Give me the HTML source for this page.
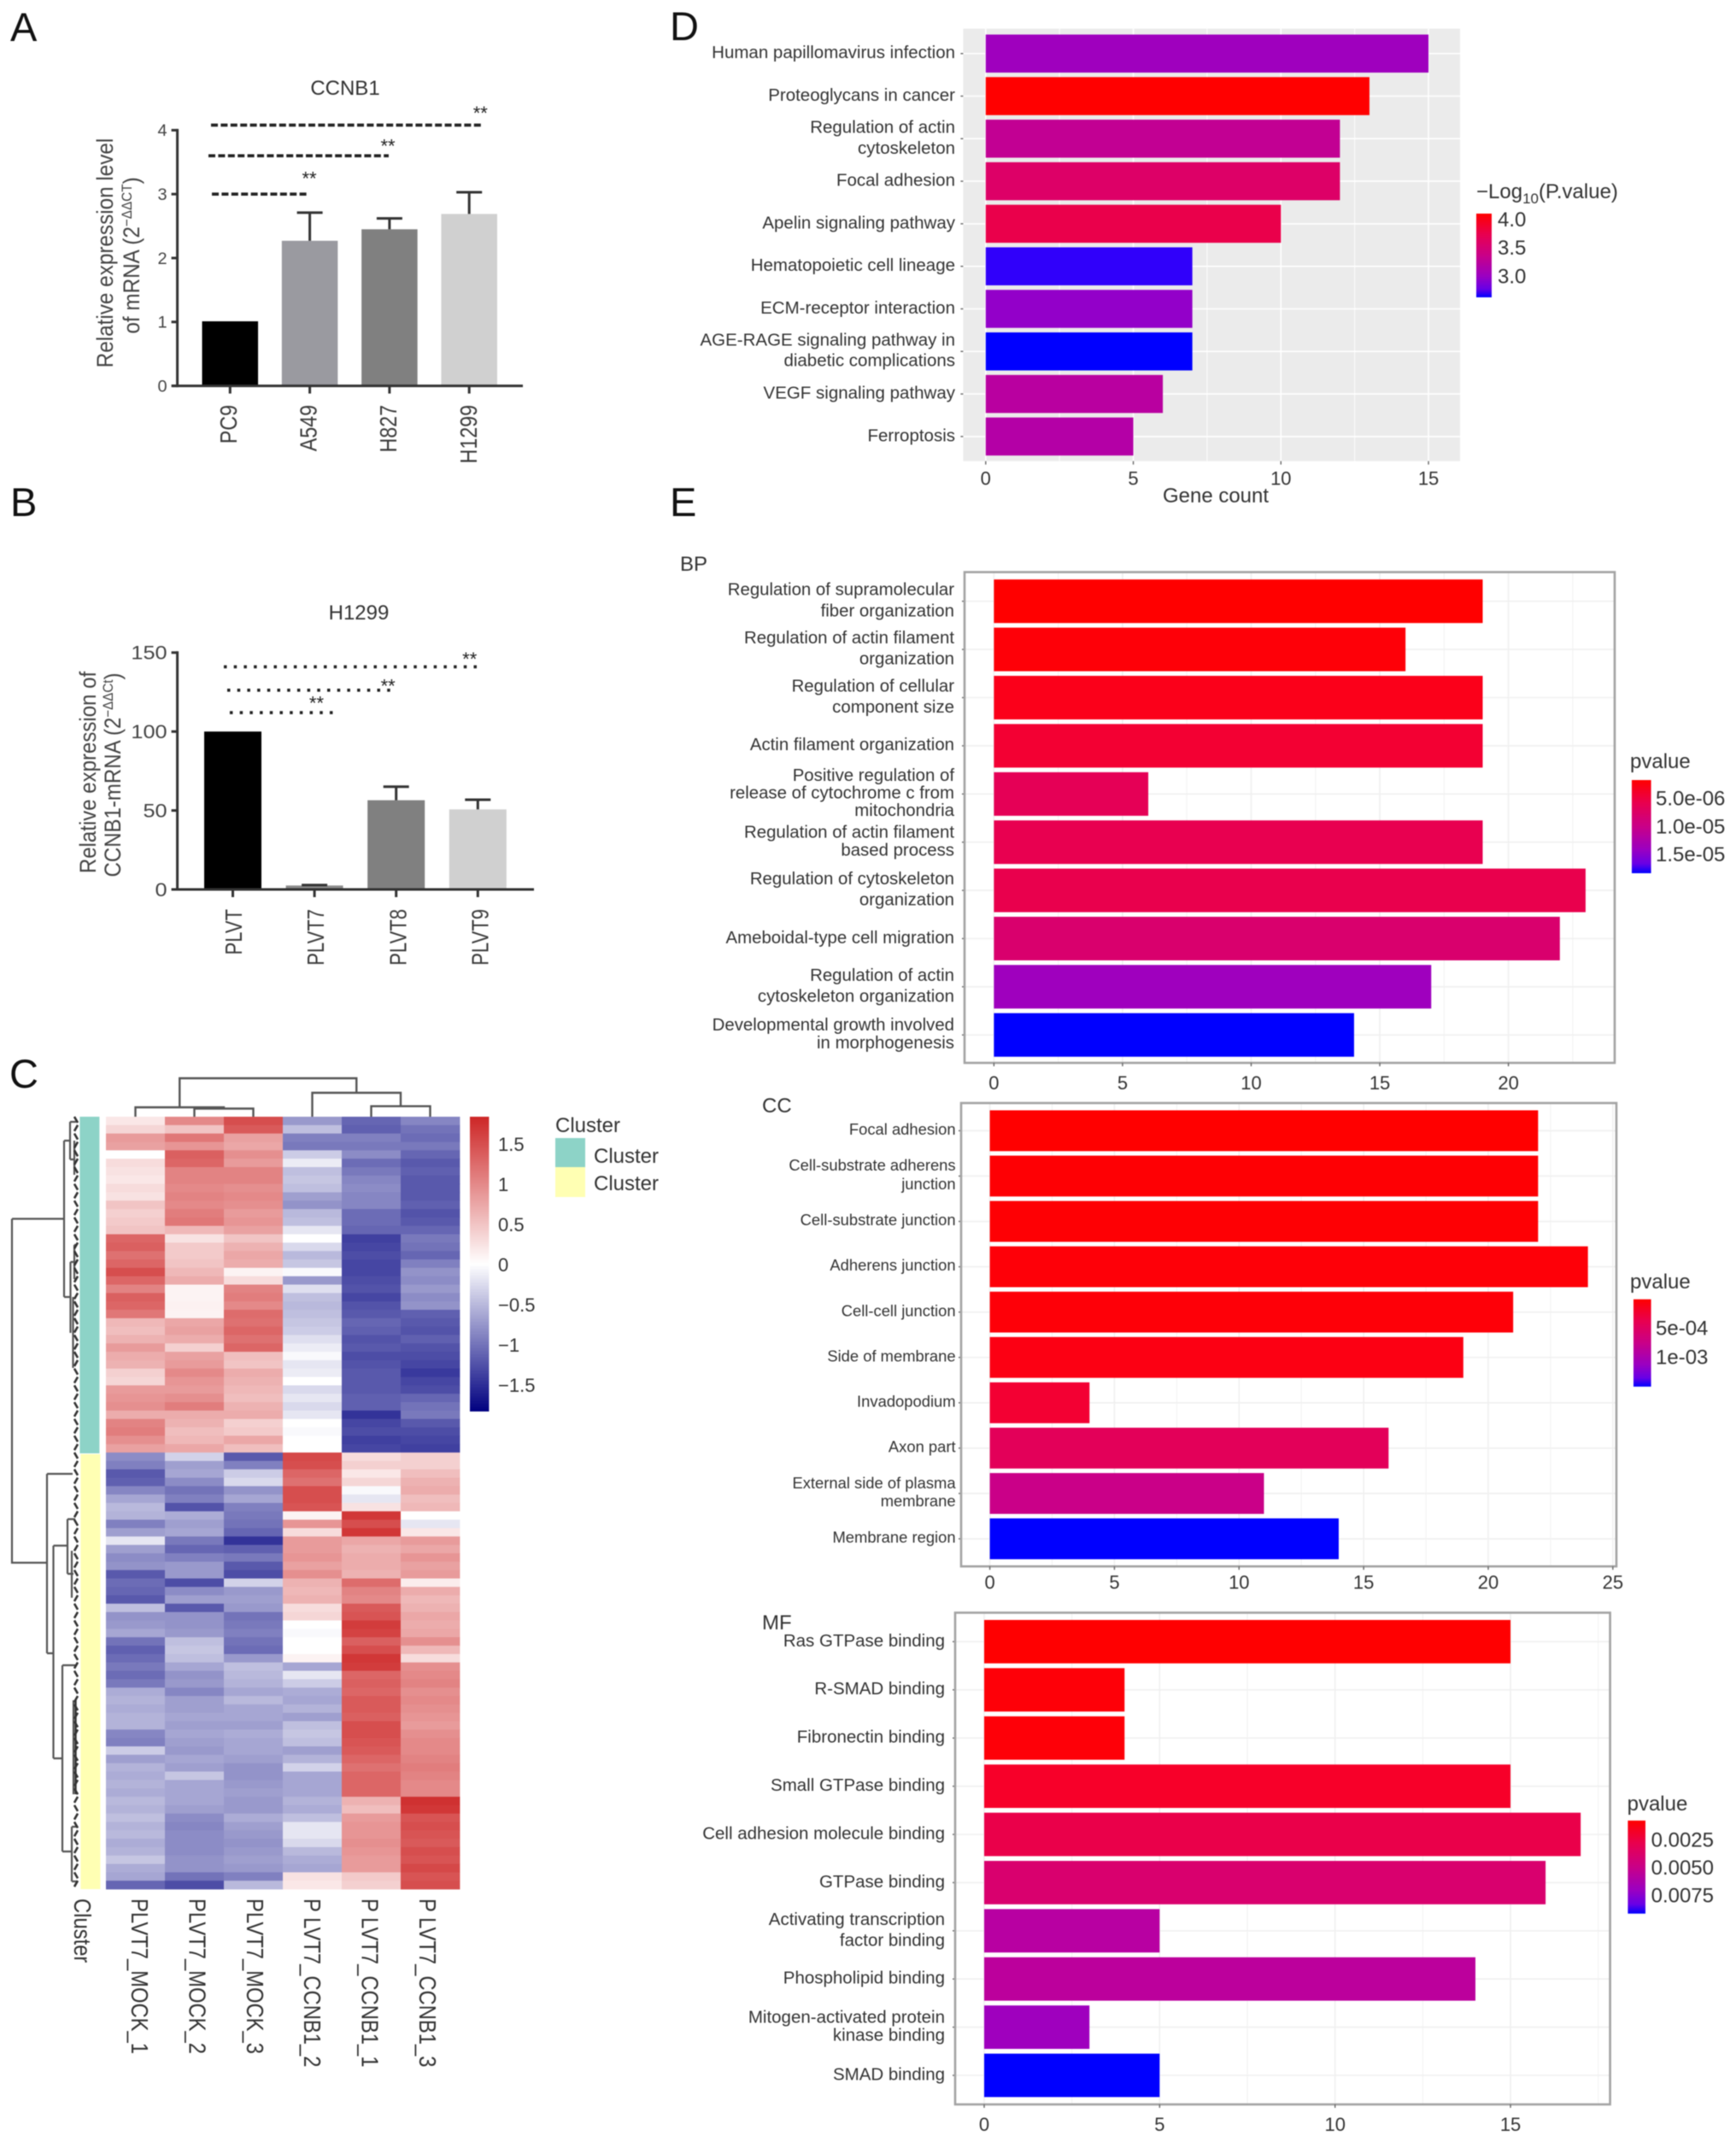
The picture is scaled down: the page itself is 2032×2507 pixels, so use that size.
<!DOCTYPE html>
<html lang="en">
<head>
<meta charset="utf-8">
<title>CCNB1 expression, heatmap and enrichment figure</title>
<style>
html,body{margin:0;padding:0;background:#fff;}
svg{display:block;filter:blur(0.55px);}
text{font-family:"Liberation Sans",Arial,sans-serif;}
</style>
</head>
<body>
<svg id="figure" xmlns="http://www.w3.org/2000/svg" width="2032" height="2507" viewBox="0 0 2032 2507">
<defs>
<linearGradient id="go-gradient" x1="0" y1="0" x2="0" y2="1"><stop offset="0" stop-color="#ff0000"/><stop offset="0.25" stop-color="#e80050"/><stop offset="0.5" stop-color="#c90088"/><stop offset="0.75" stop-color="#9a00c2"/><stop offset="0.9" stop-color="#6800e6"/><stop offset="1" stop-color="#0000ff"/></linearGradient>
<linearGradient id="heat-gradient" x1="0" y1="0" x2="0" y2="1"><stop offset="0" stop-color="#cd2626"/><stop offset="0.5" stop-color="#ffffff"/><stop offset="1" stop-color="#000080"/></linearGradient>
</defs>
<rect width="2032" height="2507" fill="#ffffff"/>

<text x="12" y="48" font-size="47" fill="#111">A</text>
<text x="12" y="604" font-size="47" fill="#111">B</text>
<text x="11" y="1273" font-size="47" fill="#111">C</text>
<text x="784" y="47" font-size="47" fill="#111">D</text>
<text x="784" y="604" font-size="47" fill="#111">E</text>

<g id="panel-a">
<text x="404" y="111" font-size="24" text-anchor="middle" fill="#333">CCNB1</text>
<text transform="translate(132,296) rotate(-90) scale(.9,1)" font-size="27" text-anchor="middle" fill="#444">Relative expression level</text>
<text transform="translate(163,299) rotate(-90) scale(.9,1)" font-size="27" text-anchor="middle" fill="#444">of mRNA (2<tspan font-size="17" dy="-9">−ΔΔCT</tspan><tspan dy="9">)</tspan></text>
</g>

<g id="panel-b">
<text x="420" y="725" font-size="24" text-anchor="middle" fill="#333">H1299</text>
<text transform="translate(112,904) rotate(-90) scale(.89,1)" font-size="27" text-anchor="middle" fill="#444">Relative expression of</text>
<text transform="translate(141,907) rotate(-90) scale(.89,1)" font-size="27" text-anchor="middle" fill="#444">CCNB1-mRNA (2<tspan font-size="17" dy="-9">−ΔΔCt</tspan><tspan dy="9">)</tspan></text>
</g>

<g id="panel-c">
<path fill="none" stroke="#555" stroke-width="2.2" d="M14 1426.5H75.5M75 1335V1518M75 1335H82M82 1313V1357M82 1313H89M82 1357H87M87 1335V1375M75 1518H83M82.5 1477V1560M82.5 1477H87M87 1457V1497M87 1457H90M87 1497H90M85.5 1518V1601M14 1426.5V1829H55M55 1725V1935M55 1725H85M55 1935H62.5M62.5 1809V2058M62.5 1809H79M79 1778V1842M79 1778H88M79 1842H86M84 1815V1870M62.5 2058H73M73 1949V2167M73 1949H88M73 2167H84M84 2138V2202M84 2138H90M84 2202H90M86 1990V2100"/>
<path fill="none" stroke="#333" stroke-width="2.4" d="M88.5 1990V2100"/>
<rect x="93.4" y="1307" width="23" height="394" fill="#8dd3c7"/>
<rect x="94.4" y="1702" width="23" height="509" fill="#ffffb3"/>
<rect x="550" y="1307" width="22.4" height="345" fill="url(#heat-gradient)"/>
<text x="650" y="1325" font-size="24" fill="#333">Cluster</text>
<rect x="650" y="1332" width="35" height="34" fill="#8dd3c7"/>
<rect x="650" y="1366" width="35" height="35" fill="#ffffb3"/>
<text x="695" y="1361" font-size="24" fill="#333">Cluster</text>
<text x="695" y="1393" font-size="24" fill="#333">Cluster</text>
<text transform="translate(87,2222) rotate(90) scale(.85,1)" font-size="28" fill="#333">Cluster</text>
</g>

<g id="panel-d">
<text x="1423" y="588" font-size="24" text-anchor="middle" fill="#333">Gene count</text>
<text x="1728" y="232" font-size="24" fill="#333">−Log<tspan font-size="17" dy="6">10</tspan><tspan dy="-6">(P.value)</tspan></text>
<rect x="1728" y="250" width="18" height="98" fill="url(#go-gradient)"/>
</g>

<g id="panel-bp">
<text x="796" y="668" font-size="24" fill="#333">BP</text>
<text x="1908" y="899" font-size="24" fill="#333">pvalue</text>
<rect x="1910" y="913" width="22.6" height="109" fill="url(#go-gradient)"/>
</g>

<g id="panel-cc">
<text x="892" y="1302" font-size="24" fill="#333">CC</text>
<text x="1908" y="1508" font-size="24" fill="#333">pvalue</text>
<rect x="1912" y="1520.7" width="20.6" height="102.2" fill="url(#go-gradient)"/>
</g>

<g id="panel-mf">
<text x="1904.6" y="2119" font-size="24" fill="#333">pvalue</text>
<rect x="1905.4" y="2130.8" width="20.6" height="108.9" fill="url(#go-gradient)"/>
</g>
</svg>

<script>
// ---------- Panel A data ----------
const aCategories = ['PC9', 'A549', 'H827', 'H1299'];
const aValues = [1.01, 2.27, 2.45, 2.69];
const aErrors = [0, 0.44, 0.17, 0.34];
const aTicks = [0, 1, 2, 3, 4];
const aBarColors = ['#000000', '#9a9aa0', '#808080', '#d0d0d0'];
const aSigLevels = [3.0, 3.6, 4.08];
const aSigStart = [-0.228, -0.271, -0.239];
const aSigEnd = [0.961, 1.99, 3.17];
const aStarLevels = [3.31, 3.82, 4.33];
const aStarPlace = [0.994, 1.98, 3.14];

// ---------- Panel B data ----------
const bCategories = ['PLVT', 'PLVT7', 'PLVT8', 'PLVT9'];
const bValues = [100, 2.5, 56.5, 50.7];
const bErrors = [0, 0.3, 8.6, 6.1];
const bTicks = [0, 50, 100, 150];
const bBarColors = ['#000000', '#8c8c8c', '#808080', '#d0d0d0'];
const bSigLevels = [112, 126.2, 141];
const bSigStart = [-0.037, -0.068, -0.11];
const bSigEnd = [1.29, 1.94, 3.06];
const bStarLevels = [120.8, 131.5, 148.5];
const bStarPlace = [1.025, 1.9, 2.9];

// ---------- Panel C data (z-scores per column; 40 rows of cluster 1 then 52 rows of cluster 2) ----------
const heatColumns = ['PLVT7_MOCK_1', 'PLVT7_MOCK_2', 'PLVT7_MOCK_3', 'P LVT7_CCNB1_2', 'P LVT7_CCNB1_1', 'P LVT7_CCNB1_3'];
const heatMock1 = [
.2,.35,.85,.8,0,.3,.25,.2,.3,.25,
.5,.4,.45,.5,1.3,1.35,1.2,1.3,1.5,1.3,
1.05,1.35,1.3,1.15,.6,.55,.65,.85,.7,.65,
.4,.35,.85,.9,.95,.7,1.05,1.1,.95,.8,
-.9,-1.0,-1.3,-1.25,-.95,-.7,-.55,-.6,-1.0,-.75,
-.2,-.75,-.9,-.85,-1.3,-1.15,-1.2,-1.3,-.5,-.85,
-.8,-.7,-1.1,-1.25,-1.15,-1.05,-1.15,-1.05,-.65,-.6,
-.65,-.6,-.6,-.95,-1.0,-.4,-.75,-.6,-.65,-.6,
-.65,-.55,-.6,-.5,-.6,-.55,-.65,-.6,-.45,-.65,
-.7,-1.2];
const heatMock2 = [
1.0,.5,1.15,.9,1.35,1.3,1.05,1.05,1.0,1.05,
1.0,1.1,1.15,.6,.25,.45,.45,.5,.6,.7,
.1,.1,.12,.1,.75,.8,.7,.4,.8,.85,
1.0,.9,.85,.95,1.1,.7,.65,.55,.6,.75,
-.35,-.75,-.7,-.9,-1.1,-1.0,-1.35,-.65,-.75,-.7,
-1.05,-1.2,-1.0,-.8,-.8,-1.4,-.9,-.75,-1.3,-.85,
-.85,-.8,-.5,-.45,-.5,-.7,-.85,-.8,-.95,-.75,
-.75,-.7,-.75,-.7,-.75,-.8,-.7,-.75,-.45,-.7,
-.7,-.7,-.75,-.9,-.95,-.9,-.9,-.9,-.85,-.85,
-1.1,-1.4];
const heatMock3 = [
1.5,1.4,.8,.75,.95,.85,1.05,1.05,.95,1.0,
.95,.85,.9,.8,.5,.65,.75,.7,.1,.3,
1.05,1.1,1.0,1.25,1.2,1.3,1.2,1.3,.55,.5,
.7,.65,.6,.55,.65,.7,.4,.45,.75,.55,
-1.3,-1.0,-.4,-.3,-.85,-.7,-1.0,-1.05,-1.1,-1.2,
-1.6,-1.25,-1.05,-1.3,-1.4,-.35,-.8,-.75,-.8,-1.1,
-1.05,-1.0,-1.1,-1.15,-.8,-.5,-.55,-.6,-.7,-.55,
-.7,-.7,-.75,-.65,-.7,-.7,-.75,-.85,-.85,-.8,
-.75,-.8,-.8,-.65,-.75,-.8,-.85,-.8,-.75,-.8,
-1.0,-.55];
const heatCcnb2 = [
-.8,-.5,-1.0,-1.05,-.4,-.15,-.5,-.45,-.5,-.75,
-.85,-.55,-.5,-.2,0,-.3,-.55,-.45,-.05,-.8,
-.25,-.5,-.55,-.5,-.45,-.4,-.25,-.15,-.05,-.2,
-.15,0,-.3,-.2,-.3,-.2,0,-.05,0,0,
1.55,1.5,1.3,1.2,1.5,1.5,1.45,.1,.9,.3,
.85,.85,.9,.8,.95,.65,.6,.65,.3,.35,
0,-.05,0,0,.1,-.7,-.2,-.4,-.65,-.7,
-.6,-.75,-.5,-.45,-.5,-.75,-.6,-.35,-.7,-.7,
-.7,-.6,-.65,-.5,-.2,-.2,-.3,-.55,-.65,-.7,
.25,.2];
const heatCcnb1 = [
-1.2,-1.25,-1.0,-1.05,-.9,-1.15,-1.05,-.95,-.9,-.95,
-.95,-1.15,-1.15,-1.2,-1.5,-1.45,-1.4,-1.45,-1.45,-1.4,
-1.35,-1.45,-1.35,-1.3,-1.2,-1.25,-1.35,-1.3,-1.4,-1.35,
-1.3,-1.3,-1.3,-1.25,-1.25,-1.6,-1.45,-1.4,-1.5,-1.45,
.3,.4,.2,.35,-.05,-.2,.25,1.7,1.5,1.7,
.75,.65,.7,.7,.65,1.25,1.05,1.0,1.4,1.45,
1.65,1.6,1.35,1.5,1.7,1.65,1.3,1.35,1.3,1.4,
1.4,1.35,1.5,1.5,1.45,1.4,1.3,1.2,1.3,1.3,
1.3,.65,.55,.85,.9,.9,.95,.9,.85,.85,
.45,.4];
const heatCcnb3 = [
-.95,-1.1,-1.15,-1.05,-1.2,-1.3,-1.25,-1.3,-1.3,-1.3,
-1.25,-1.35,-1.3,-1.2,-1.05,-1.1,-1.2,-1.0,-.85,-.9,
-.8,-.9,-.85,-1.25,-1.3,-1.35,-1.25,-1.35,-1.4,-1.45,
-1.55,-1.45,-1.4,-1.2,-1.1,-1.05,-1.3,-1.4,-1.45,-1.5,
.4,.4,.55,.65,.7,.55,.6,0,-.2,.2,
.85,.75,.9,.8,.85,.15,.7,.6,.65,.75,
.7,.75,.95,.6,.3,.95,1.0,1.05,.95,1.0,
.95,.9,.85,.95,1.0,1.0,1.05,1.1,1.05,1.0,
1.0,1.75,1.7,1.45,1.5,1.45,1.4,1.5,1.45,1.55,
1.45,1.5];
const heatTickValues = [1.5, 1, 0.5, 0, -0.5, -1, -1.5];
const heatTickLabels = ['1.5', '1', '0.5', '0', '−0.5', '−1', '−1.5'];
// column tree: nodes 0-5 are leaves, each merge creates the next node id
const colMergeLeft = [1, 0, 4, 3, 7];
const colMergeRight = [2, 6, 5, 8, 9];
const colMergeHeight = [9.5, 11, 12.3, 28, 45];

// ---------- Panel D data ----------
const dLabels = ['Human papillomavirus infection', 'Proteoglycans in cancer', 'Regulation of actin\ncytoskeleton', 'Focal adhesion', 'Apelin signaling pathway', 'Hematopoietic cell lineage', 'ECM-receptor interaction', 'AGE-RAGE signaling pathway in\ndiabetic complications', 'VEGF signaling pathway', 'Ferroptosis'];
const dCounts = [15, 13, 12, 12, 10, 7, 7, 7, 6, 5];
const dLogP = [3.02, 4.1, 3.29, 3.58, 3.76, 2.65, 2.95, 2.62, 3.21, 3.17];
const dTicks = [0, 5, 10, 15];
const dLegendValues = [4.0, 3.5, 3.0];
const dLegendLabels = ['4.0', '3.5', '3.0'];
const dLineGaps = [0, 0, 24.5, 0, 0, 0, 0, 24, 0, 0];

// ---------- Panel E data ----------
const bpLabels = ['Regulation of supramolecular\nfiber organization', 'Regulation of actin filament\norganization', 'Regulation of cellular\ncomponent size', 'Actin filament organization', 'Positive regulation of\nrelease of cytochrome c from\nmitochondria', 'Regulation of actin filament\nbased process', 'Regulation of cytoskeleton\norganization', 'Ameboidal-type cell migration', 'Regulation of actin\ncytoskeleton organization', 'Developmental growth involved\nin morphogenesis'];
const bpCounts = [19, 16, 19, 19, 6, 19, 23, 22, 17, 14];
const bpPValues = [1.8e-6, 2e-6, 2.6e-6, 4e-6, 6.4e-6, 6e-6, 5.8e-6, 8.1e-6, 1.39e-5, 1.84e-5];
const bpTicks = [0, 5, 10, 15, 20];
const bpLegendValues = [5e-6, 1e-5, 1.5e-5];
const bpLegendLabels = ['5.0e-06', '1.0e-05', '1.5e-05'];
const bpLineGaps = [25, 24.5, 24.5, 0, 20.4, 21, 24.5, 0, 24.5, 21];

const ccLabels = ['Focal adhesion', 'Cell-substrate adherens\njunction', 'Cell-substrate junction', 'Adherens junction', 'Cell-cell junction', 'Side of membrane', 'Invadopodium', 'Axon part', 'External side of plasma\nmembrane', 'Membrane region'];
const ccCounts = [22, 22, 22, 24, 21, 19, 4, 16, 11, 14];
const ccPValues = [1e-5, 2e-5, 2e-5, 3e-5, 3e-5, 6e-5, 2.1e-4, 4.5e-4, 7.6e-4, 1.515e-3];
const ccTicks = [0, 5, 10, 15, 20, 25];
const ccLegendValues = [5e-4, 1e-3];
const ccLegendLabels = ['5e-04', '1e-03'];
const ccLineGaps = [0, 22, 0, 0, 0, 0, 0, 0, 21, 0];

const mfLabels = ['Ras GTPase binding', 'R-SMAD binding', 'Fibronectin binding', 'Small GTPase binding', 'Cell adhesion molecule binding', 'GTPase binding', 'Activating transcription\nfactor binding', 'Phospholipid binding', 'Mitogen-activated protein\nkinase binding', 'SMAD binding'];
const mfCounts = [15, 4, 4, 15, 17, 16, 5, 14, 3, 5];
const mfPValues = [0.0008, 0.0009, 0.0009, 0.0016, 0.0027, 0.004, 0.0059, 0.0057, 0.0069, 0.00917];
const mfTicks = [0, 5, 10, 15];
const mfLegendValues = [0.0025, 0.005, 0.0075];
const mfLegendLabels = ['0.0025', '0.0050', '0.0075'];
const mfLineGaps = [0, 0, 0, 0, 0, 0, 24.4, 0, 21, 0];

// ---------- helpers ----------
const SVGNS = 'http://www.w3.org/2000/svg';
function shape(parent, tag, attrs) {
  const el = document.createElementNS(SVGNS, tag);
  for (const k in attrs) el.setAttribute(k, attrs[k]);
  parent.appendChild(el);
  return el;
}
function line(parent, x1, y1, x2, y2, stroke, width, name) {
  const el = shape(parent, 'line', {x1: x1, y1: y1, x2: x2, y2: y2, stroke: stroke, 'stroke-width': width});
  
  
  return el;
}
function label(parent, s, x, y, size, anchor, fill, rot, sx, name) {
  const el = shape(parent, 'text', {'font-size': size, 'text-anchor': anchor, fill: fill,
    transform: 'translate(' + x + ',' + y + ') rotate(' + rot + ') scale(' + sx + ',1)'});
  el.textContent = s;
  
  
  return el;
}
// blue-to-red colour ramp interpolated in CIE Lab, as ggplot gradients are
function labRamp(t) {
  const L = 32.30 + (53.24 - 32.30) * t, a = 79.19 + (80.09 - 79.19) * t, b = -107.86 + (67.20 + 107.86) * t;
  const fy = (L + 16) / 116, fx = fy + a / 500, fz = fy - b / 200;
  const inv = f => f > 0.2069 ? f * f * f : (f - 16 / 116) / 7.787;
  const X = 0.95047 * inv(fx), Y = inv(fy), Z = 1.08883 * inv(fz);
  const linear = [3.2406 * X - 1.5372 * Y - 0.4986 * Z, -0.9689 * X + 1.8758 * Y + 0.0415 * Z, 0.0557 * X - 0.2040 * Y + 1.0570 * Z];
  const gamma = c => { const v = Math.max(0, Math.min(1, c)); return Math.round(255 * (v <= 0.0031308 ? 12.92 * v : 1.055 * Math.pow(v, 1 / 2.4) - 0.055)); };
  return 'rgb(' + linear.map(gamma).join(',') + ')';
}

// ---------- Panels A and B ----------
function drawColumnChart(id, cfg, categories, values, errors, ticks, colors, sigLevels, sigStart, sigEnd, starLevels, starPlace) {
  const g = document.getElementById(id);
  const xPos = i => cfg.x0 + i * cfg.xStep;
  const yPos = v => cfg.y0 - v * cfg.yUnit;
  values.forEach((v, i) => {
    const bar = shape(g, 'rect', {x: xPos(i) - cfg.barW / 2, y: yPos(v), width: cfg.barW, height: yPos(0) - yPos(v), fill: colors[i]});
    
    
    if (errors[i] > 0) {
      line(g, xPos(i), yPos(v), xPos(i), yPos(v + errors[i]), '#333', 3, id + '-error-stem');
      line(g, xPos(i) - 15, yPos(v + errors[i]), xPos(i) + 15, yPos(v + errors[i]), '#333', 3, id + '-error-cap');
    }
    line(g, xPos(i), yPos(0), xPos(i), yPos(0) + 9, '#333', 3, id + '-x-tick');
    label(g, categories[i], cfg.labelX0 + i * cfg.labelStep + 10, cfg.labelTop, 28, 'end', '#3c3c3c', -90, cfg.labelScale, id + '-x-label');
  });
  line(g, cfg.axisX, yPos(ticks[ticks.length - 1]) - 1.5, cfg.axisX, yPos(0) + 1.5, '#333', 3, id + '-y-axis');
  line(g, cfg.axisX - 6, yPos(0), cfg.axisEnd, yPos(0), '#333', 3, id + '-x-axis');
  ticks.forEach(t => {
    line(g, cfg.axisX - 7, yPos(t), cfg.axisX, yPos(t), '#333', 3, id + '-y-tick');
    label(g, String(t), cfg.axisX - 12, yPos(t) + cfg.tickFont * 0.36, cfg.tickFont, 'end', '#444', 0, cfg.tickScale, id + '-y-tick-label');
  });
  sigLevels.forEach((lv, i) => {
    const s = line(g, xPos(sigStart[i]), yPos(lv), xPos(sigEnd[i]), yPos(lv), '#222', 3.6, id + '-significance-line');
    s.setAttribute('stroke-dasharray', cfg.sigDash);
    label(g, '**', xPos(starPlace[i]), yPos(starLevels[i]) + 12.5, 22, 'middle', '#222', 0, 1, id + '-significance-stars');
  });
}
drawColumnChart('panel-a', {x0: 269.3, xStep: 93.3, y0: 451.6, yUnit: 74.8, barW: 65.5, labelX0: 267, labelStep: 93.6, labelTop: 474, labelScale: 0.83, axisX: 207.6, axisEnd: 612, tickFont: 19, tickScale: 1.05, sigDash: '8 3.4'},
  aCategories, aValues, aErrors, aTicks, aBarColors, aSigLevels, aSigStart, aSigEnd, aStarLevels, aStarPlace);
drawColumnChart('panel-b', {x0: 272.5, xStep: 95.6, y0: 1041, yUnit: 1.848, barW: 67, labelX0: 273, labelStep: 96.2, labelTop: 1064, labelScale: 0.79, axisX: 207.6, axisEnd: 625, tickFont: 22, tickScale: 1.15, sigDash: '3.5 8.2'},
  bCategories, bValues, bErrors, bTicks, bBarColors, bSigLevels, bSigStart, bSigEnd, bStarLevels, bStarPlace);

// ---------- Panel C ----------
const heatData = [heatMock1, heatMock2, heatMock3, heatCcnb2, heatCcnb1, heatCcnb3];
const heatG = document.getElementById('panel-c');
const heatLeft = 124, heatColW = 69, heatTop = 1307, heatRowH = 904 / heatMock1.length;
const colX = j => heatLeft + j * heatColW;
const rowY = i => heatTop + i * heatRowH;
const colorbarY = v => 1480 - v * 94;
const columnLabelX = j => 154 + j * 67.4;
function heatColor(v) {
  const t = Math.min(1, Math.abs(v) / (v >= 0 ? 1.84 : 2.0));
  const end = v >= 0 ? [205, 38, 38] : [0, 0, 128];
  return 'rgb(' + end.map(c => Math.round(255 + (c - 255) * t)).join(',') + ')';
}
heatData.forEach((col, j) => {
  col.forEach((v, i) => {
    const cell = shape(heatG, 'rect', {x: colX(j), y: rowY(i), width: heatColW + 0.4, height: heatRowH + 0.4, fill: heatColor(v)});
    
    
  });
  label(heatG, heatColumns[j], columnLabelX(j), 2222, 28, 'start', '#333', 90, 0.85, 'heatmap-column-label');
});
heatTickValues.forEach((v, i) => {
  label(heatG, heatTickLabels[i], 583, colorbarY(v) + 8, 22, 'start', '#333', 0, 1, 'heatmap-colorbar-label');
});
// short slanted strokes where the row tree meets each heatmap row
let leafPath = '';
heatMock1.forEach((v, i) => {
  leafPath += 'M' + (i % 2 ? 91 : 87) + ' ' + rowY(i) + 'L' + (i % 2 ? 87 : 91) + ' ' + (rowY(i) + 7);
});
const leaves = shape(heatG, 'path', {fill: 'none', stroke: '#333', 'stroke-width': 2.6, d: leafPath});


// column dendrogram from merge arrays
const dendroX = heatColumns.map((c, j) => colX(j) + heatColW / 2);
const dendroH = heatColumns.map(() => 0);
const dendroY = h => heatTop - h;
colMergeHeight.forEach((h, i) => {
  const a = colMergeLeft[i], b = colMergeRight[i];
  const seg = shape(heatG, 'path', {fill: 'none', stroke: '#555', 'stroke-width': 2.4,
    d: 'M' + dendroX[a] + ' ' + dendroY(dendroH[a]) + 'V' + dendroY(h) + 'H' + dendroX[b] + 'V' + dendroY(dendroH[b])});
  
  
  dendroX.push((dendroX[a] + dendroX[b]) / 2);
  dendroH.push(h);
});

// ---------- Panels D and E ----------
function drawEnrichment(id, cfg, labels, counts, colorValues, ticks, legendValues, legendLabels, lineGaps) {
  const g = document.getElementById(id);
  const xPos = v => cfg.x0 + v * cfg.unit;
  const yPos = i => cfg.first + i * cfg.step;
  const colorT = v => cfg.highIsRed ? (v - cfg.min) / (cfg.max - cfg.min) : 1 - (v - cfg.min) / (cfg.max - cfg.min);
  const barColor = v => labRamp(Math.max(0, Math.min(1, colorT(v))));
  const panel = shape(g, 'rect', {x: cfg.left, y: cfg.top, width: cfg.right - cfg.left, height: cfg.bottom - cfg.top, fill: cfg.bg});
  
  
  ticks.forEach(t => {
    line(g, xPos(t), cfg.top, xPos(t), cfg.bottom, cfg.grid, 1.6, id + '-major-gridline');
    const halfway = t + (ticks[1] - ticks[0]) / 2;
    if (xPos(halfway) < cfg.right) line(g, xPos(halfway), cfg.top, xPos(halfway), cfg.bottom, cfg.grid, 0.9, id + '-minor-gridline');
  });
  labels.forEach((s, i) => line(g, cfg.left, yPos(i), cfg.right, yPos(i), cfg.grid, 1.6, id + '-category-gridline'));
  counts.forEach((c, i) => {
    const bar = shape(g, 'rect', {x: xPos(0), y: yPos(i) - cfg.barH / 2, width: xPos(c) - xPos(0), height: cfg.barH, fill: barColor(colorValues[i])});
    
    
    line(g, cfg.left - 3, yPos(i), cfg.left, yPos(i), '#666', 1.4, id + '-y-tick');
    const parts = labels[i].split('\n');
    const firstLine = yPos(i) - 2 - (parts.length - 1) * lineGaps[i] / 2 + cfg.font * 0.36;
    parts.forEach((p, k) => {
      label(g, p, cfg.labelRight, firstLine + k * lineGaps[i], cfg.font, 'end', '#333', 0, 1, id + '-category-label');
    });
  });
  if (cfg.frame) {
    const frame = shape(g, 'rect', {x: cfg.left, y: cfg.top, width: cfg.right - cfg.left, height: cfg.bottom - cfg.top, fill: 'none', stroke: '#a3a3a3', 'stroke-width': 2.6});
    
    
  }
  ticks.forEach(t => {
    line(g, xPos(t), cfg.bottom, xPos(t), cfg.bottom + 4, '#666', 1.4, id + '-x-tick');
    label(g, String(t), xPos(t), cfg.tickY + 8, 22, 'middle', '#333', 0, 1, id + '-x-tick-label');
  });
  legendValues.forEach((v, i) => {
    const y = cfg.legendTop + (1 - colorT(v)) * cfg.legendH;
    label(g, legendLabels[i], cfg.legendX, y + 8.5, 24, 'start', '#333', 0, 1, id + '-legend-label');
  });
}
drawEnrichment('panel-d', {x0: 1153.8, unit: 34.55, first: 62.7, step: 49.8, barH: 44.5, left: 1127.4, right: 1709, top: 33.6, bottom: 539.7, bg: '#ebebeb', grid: '#ffffff', frame: false, labelRight: 1118, font: 20.5, tickY: 559.5, highIsRed: true, min: 2.62, max: 4.1, legendTop: 250, legendH: 98, legendX: 1753},
  dLabels, dCounts, dLogP, dTicks, dLegendValues, dLegendLabels, dLineGaps);
drawEnrichment('panel-bp', {x0: 1163.4, unit: 30.11, first: 703.7, step: 56.4, barH: 51, left: 1129, right: 1890, top: 669.6, bottom: 1244, bg: '#ffffff', grid: '#f0f0f0', frame: true, labelRight: 1117, font: 20.4, tickY: 1267, highIsRed: false, min: 1.8e-6, max: 1.84e-5, legendTop: 913, legendH: 109, legendX: 1938},
  bpLabels, bpCounts, bpPValues, bpTicks, bpLegendValues, bpLegendLabels, bpLineGaps);
drawEnrichment('panel-cc', {x0: 1158.6, unit: 29.17, first: 1323.4, step: 53.07, barH: 47.8, left: 1125, right: 1892, top: 1291, bottom: 1833.3, bg: '#ffffff', grid: '#f0f0f0', frame: true, labelRight: 1118.6, font: 18.4, tickY: 1851.7, highIsRed: false, min: 1e-5, max: 1.515e-3, legendTop: 1520.7, legendH: 102.2, legendX: 1938},
  ccLabels, ccCounts, ccPValues, ccTicks, ccLegendValues, ccLegendLabels, ccLineGaps);
drawEnrichment('panel-mf', {x0: 1152, unit: 41.07, first: 1921.4, step: 56.4, barH: 50.8, left: 1118, right: 1884.6, top: 1887.5, bottom: 2463, bg: '#ffffff', grid: '#f0f0f0', frame: true, labelRight: 1106, font: 20.5, tickY: 2486, highIsRed: false, min: 0.00079, max: 0.00917, legendTop: 2130.8, legendH: 108.9, legendX: 1932.6},
  mfLabels, mfCounts, mfPValues, mfTicks, mfLegendValues, mfLegendLabels, mfLineGaps);
label(document.getElementById('panel-mf'), 'MF', 892, 1907, 24, 'start', '#333', 0, 1, 'chart-mf-label');
</script>
</body>
</html>
